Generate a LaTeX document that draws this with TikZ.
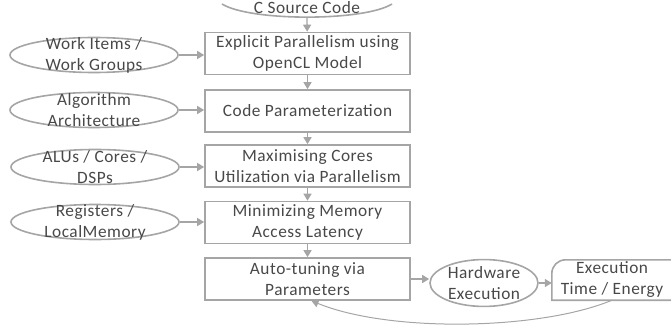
\documentclass[tikz,border=0pt]{standalone}
\usepackage{fontspec}
\setmainfont{Carlito}[LetterSpace=3]
\usetikzlibrary{shapes.geometric,arrows.meta,calc}
\definecolor{lc}{HTML}{A5A5A5}
\definecolor{tc}{HTML}{484848}
\begin{document}
\begin{tikzpicture}[x=1pt,y=-1pt,
  font=\fontsize{17.3}{21}\selectfont, text=tc,
  box/.style={draw=lc, line width=1.6pt, minimum width=205pt, minimum height=42pt, align=center, inner sep=0pt},
  ell/.style={ellipse, draw=lc, line width=1.6pt, minimum width=168pt, minimum height=35pt, inner sep=0pt},
  lab/.style={align=center, inner sep=0pt},
  arr/.style={draw=lc, line width=1.3pt, -{Triangle[length=7pt,width=8pt]}},
  fb/.style={draw=lc, line width=1pt, -{Triangle[length=7pt,width=8pt]}},
  outl/.style={draw=lc, line width=1.6pt}]
\useasboundingbox (0,0) rectangle (671,326);

% source
\node[lab] (src) at (307,7.5) {C Source Code};
\coordinate (srcbot) at (307,17.5);
\draw[outl] ($(srcbot)+(-85,-13.5)$) .. controls ($(srcbot)+(-57,4)$) and ($(srcbot)+(57,4)$) .. ($(srcbot)+(85,-13.5)$);

% main boxes
\node[box] (b1) at (307.5,53.5) {Explicit Parallelism using\\OpenCL Model};
\node[box] (b2) at (307.5,111) {Code Parameterization};
\node[box] (b3) at (307.5,166) {Maximising Cores\\Utilization via Parallelism};
\node[box] (b4) at (307.5,222.5) {Minimizing Memory\\Access Latency};
\node[box] (b5) at (307.5,279) {Auto-tuning via\\Parameters};

% left ellipses
\node[ell, label={[lab]center:{Work Items /\\Work Groups}}] (e1) at (94,55) {};
\node[ell, label={[lab]center:{Algorithm\\Architecture}}] (e2) at (94,110) {};
\node[ell, label={[lab]center:{ALUs / Cores /\\DSPs}}] (e3) at (95,167) {};
\node[ell, label={[lab]center:{Registers /\\LocalMemory}}] (e4) at (95,222) {};

% bottom row
\node[ellipse, draw=lc, line width=1.6pt, minimum width=108pt, minimum height=46pt, inner sep=0pt, align=center] (hw) at (484,283) {Hardware\\Execution};
\node[lab, minimum width=120pt, minimum height=40pt] (ex) at (612,280) {Execution\\Time / Energy};
\draw[outl] (ex.north east) -- ([xshift=14pt]ex.north west)
  .. controls ([xshift=6pt]ex.north west) and ([yshift=-6pt]ex.north west) .. ([yshift=-14pt]ex.north west)
  -- (ex.south west) -- (ex.south east);

% connectors
\draw[arr] (srcbot) -- (b1);
\draw[arr] (b1) -- (b2);
\draw[arr] (b2) -- (b3);
\draw[arr] (b3) -- (b4);
\draw[arr] (b4) -- (b5);
\draw[arr] (e1.east) -- (e1.east -| b1.west);
\draw[arr] (e2.east) -- (e2.east -| b2.west);
\draw[arr] (e3.east) -- (e3.east -| b3.west);
\draw[arr] (e4.east) -- (e4.east -| b4.west);
\draw[arr] (b5.east) -- (b5.east -| hw.west);
\draw[arr] (hw.east) -- (hw.east -| ex.west);
\draw[fb] (ex.south) .. controls +(-72,30) and +(78,32) .. ([xshift=4pt]b5.south);
\end{tikzpicture}
\end{document}
